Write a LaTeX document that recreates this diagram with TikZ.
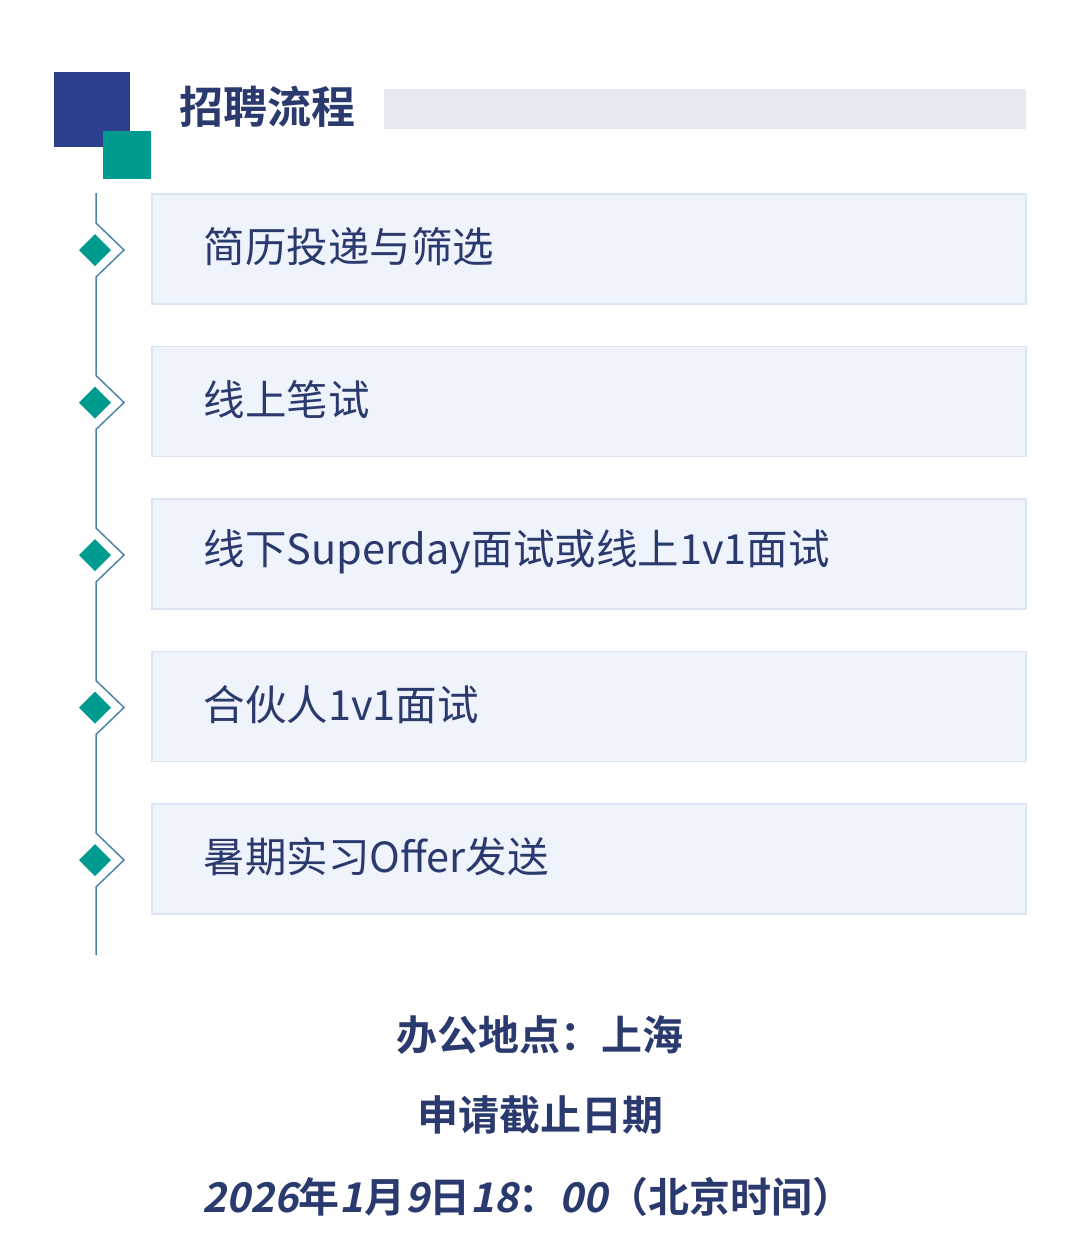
\documentclass[tikz,border=0pt]{standalone}
\usepackage{fontspec}
\setmainfont{Noto Sans CJK SC}
\newfontfamily\cjkb{Noto Sans CJK SC Bold}
\newfontfamily\cjkbi{Noto Sans CJK SC Bold}[FakeSlant=0.2]
\newcommand{\slnum}[1]{{\cjkbi #1}}
\definecolor{navy}{HTML}{2B3F8C}
\definecolor{teal1}{HTML}{009B8F}
\definecolor{txt}{HTML}{2B3A6E}
\definecolor{boxf}{HTML}{EFF3FB}
\definecolor{boxd}{HTML}{DCE5F2}
\definecolor{barc}{HTML}{E6E9F0}
\definecolor{linec}{HTML}{4F86A8}
\tikzset{stepbox/.style={fill=boxf,draw=boxd,line width=1.5pt},
 steptxt/.style={anchor=west,text=txt,font=\fontsize{41.5}{45}\selectfont},
 foot/.style={text=txt,font=\cjkb\fontsize{41}{46}\selectfont},
 dia/.style={fill=teal1,draw=none}}
\begin{document}
\begin{tikzpicture}[x=1pt,y=-1pt]
\useasboundingbox[fill=white] (0,0) rectangle (1080,1243);
\fill[navy] (54,72) rectangle (130,147);
\fill[teal1] (103,131) rectangle (151,179);
\node[anchor=west,text=txt,font=\cjkb\fontsize{44}{48}\selectfont] (title) at (176,107) {招聘流程};
\fill[barc] (384,89) rectangle (1026,129);
\draw[linec,line width=1.5pt] (96,193) coordinate (top)
 \foreach \y in {250,402.5,555,707.5,860} { -- (96,\y-27) -- (124,\y) -- (96,\y+27)} -- (96,955) coordinate (bot);
\foreach \y/\t [count=\i] in {250/简历投递与筛选,402.5/线上笔试,555/线下Superday面试或线上1v1面试,707.5/合伙人1v1面试,860/暑期实习Offer发送}{
 \draw[stepbox] (152,\y-56) rectangle (1026,\y+54);
 \node[steptxt] (s\i) at (200,\y-3) {\t};
 \fill[dia] (95,\y-16) -- (111,\y) -- (95,\y+16) -- (79,\y) -- cycle;
 \draw[white,line width=2pt] (92,\y-25) -- (68,\y-1) -- (92,\y+23);
}
\node[foot] (loc) at (540,1035) {办公地点：上海};
\node[foot] (dl) at (540,1115) {申请截止日期};
\node[foot] (dt) at (528,1197) {\slnum{2026}年\slnum{1}月\slnum{9}日\slnum{18}：\slnum{00}（北京时间）};
\end{tikzpicture}
\end{document}
